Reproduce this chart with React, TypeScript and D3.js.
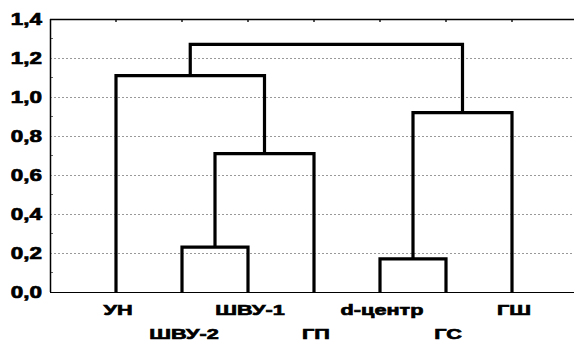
import * as d3 from "d3";

// leaves in dendrogram order
const leaves = ["УН", "ШВУ-2", "ШВУ-1", "ГП", "d-центр", "ГС", "ГШ"];
// merges: node ids 0..6 are leaves, merges get ids 7.. in order
const mergeA = [1, 7, 0, 4, 10, 9];
const mergeB = [2, 3, 8, 5, 6, 11];
const mergeHeight = [0.23, 0.71, 1.11, 0.17, 0.92, 1.27];
const yTicks = [0, 0.2, 0.4, 0.6, 0.8, 1.0, 1.2, 1.4];
const yMinor = [0.1, 0.3, 0.5, 0.7, 0.9, 1.1, 1.3];

const W = 574;
const H = 347;
const font = "'Liberation Sans', Arial, sans-serif";
const sx = 1.4;

export default function App() {
  const x = d3.scaleLinear().domain([0, leaves.length + 1]).range([50, 578]);
  const y = d3.scaleLinear().domain([0, 1.4]).range([292, 19]);

  // positions / heights of every node
  const nodeX: number[] = leaves.map((_, i) => x(i + 1));
  const nodeH: number[] = leaves.map(() => 0);
  const links: string[] = [];
  mergeA.forEach((a, i) => {
    const b = mergeB[i];
    const h = mergeHeight[i];
    const p = d3.path();
    p.moveTo(nodeX[a], y(nodeH[a]));
    p.lineTo(nodeX[a], y(h));
    p.lineTo(nodeX[b], y(h));
    p.lineTo(nodeX[b], y(nodeH[b]));
    links.push(p.toString());
    nodeX.push((nodeX[a] + nodeX[b]) / 2);
    nodeH.push(h);
  });

  const fmt = (v: number) => d3.format(".1f")(v).replace(".", ",");

  return (
    <svg
      width={W}
      height={H}
      style={{ position: "absolute", left: 0, top: 0, background: "#fff" }}
    >
      <g id="grid">
        {yTicks.slice(1, -1).map((t) => (
          <line
            key={t}
            x1={50}
            x2={W}
            y1={y(t) + 0.5}
            y2={y(t) + 0.5}
            stroke="#999"
            strokeWidth={1}
            strokeDasharray="2,2"
          />
        ))}
      </g>
      <g id="minor">
        {yMinor.map((t) => (
          <line key={t} x1={50} x2={53} y1={y(t)} y2={y(t)} stroke="#666" />
        ))}
        {leaves.map((_, i) => (
          <line
            key={i}
            x1={x(i + 1)}
            x2={x(i + 1)}
            y1={19}
            y2={22}
            stroke="#555"
            strokeWidth={2}
          />
        ))}
      </g>
      <g id="frame" stroke="#000" fill="none">
        <line x1={50} x2={W} y1={19.5} y2={19.5} strokeWidth={1.5} />
        <line x1={50.5} x2={50.5} y1={19} y2={292} strokeWidth={1.5} />
        <line x1={50} x2={W} y1={292.5} y2={292.5} strokeWidth={1.2} />
      </g>
      <g id="links">
        {links.map((d, i) => (
          <path
            key={i}
            d={d}
            fill="none"
            stroke="#000"
            strokeWidth={3.2}
            strokeLinejoin="miter"
          />
        ))}
      </g>
      <g
        id="y-labels"
        fontFamily={font}
        fontWeight="bold"
        fontSize={16}
        stroke="#000"
        strokeWidth={0.7}
      >
        {yTicks.map((t) => (
          <text
            key={t}
            transform={`translate(42,${y(t) + 5.5}) scale(${sx},1)`}
            textAnchor="end"
            fill="#000"
          >
            {fmt(t)}
          </text>
        ))}
      </g>
      <g
        id="x-labels"
        fontFamily={font}
        fontWeight="bold"
        fontSize={15.5}
        stroke="#000"
        strokeWidth={0.7}
      >
        {leaves.map((l, i) => (
          <text
            key={l}
            transform={`translate(${x(i + 1) + 2},${i % 2 === 0 ? 315 : 339}) scale(${sx},1)`}
            textAnchor="middle"
            fill="#000"
          >
            {l}
          </text>
        ))}
      </g>
    </svg>
  );
}
